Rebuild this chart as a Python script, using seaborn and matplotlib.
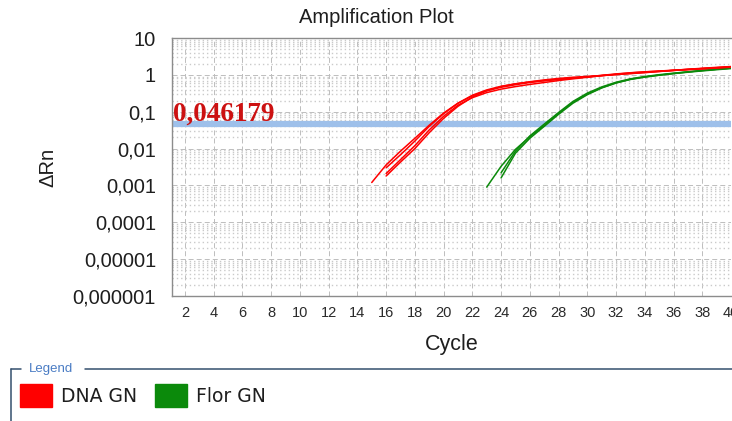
import matplotlib
matplotlib.use("Agg")
import matplotlib.pyplot as plt
import pandas as pd
import seaborn as sns
from matplotlib.lines import Line2D
from matplotlib.patches import Patch
from matplotlib.ticker import FixedLocator, LogLocator, NullFormatter

# ---- chart content -------------------------------------------------------
title = "Amplification Plot"
x_label = "Cycle"
y_label = "ΔRn"
legend_title = "Legend"
samples = ["DNA GN", "Flor GN"]
sample_colors = ["#ff0000", "#0b8a0b"]
threshold = 0.046179

x_ticks = list(range(2, 41, 2))
y_ticks = [1e-6, 1e-5, 1e-4, 1e-3, 1e-2, 1e-1, 1, 10]
y_tick_labels = ["0,000001", "0,00001", "0,0001", "0,001", "0,01", "0,1", "1", "10"]

# DNA GN wells: first plotted cycle, then ΔRn for each cycle up to 40
dna_starts = [15, 16, 16, 16]
dna_well_1 = [0.0012, 0.0036, 0.0085, 0.019, 0.043, 0.092, 0.17, 0.27, 0.37, 0.46,
              0.54, 0.62, 0.69, 0.76, 0.82, 0.88, 0.95, 1.02, 1.09, 1.16,
              1.24, 1.32, 1.40, 1.48, 1.56, 1.64]
dna_well_2 = [0.0021, 0.0050, 0.012, 0.032, 0.075, 0.15, 0.24, 0.33, 0.41, 0.48,
              0.55, 0.62, 0.70, 0.78, 0.86, 0.95, 1.04, 1.13, 1.20, 1.26,
              1.32, 1.38, 1.45, 1.53, 1.61]
dna_well_3 = [0.0018, 0.0043, 0.010, 0.027, 0.066, 0.14, 0.25, 0.37, 0.48, 0.57,
              0.65, 0.73, 0.80, 0.86, 0.91, 0.96, 1.02, 1.08, 1.15, 1.23,
              1.32, 1.42, 1.51, 1.60, 1.68]
dna_well_4 = [0.0030, 0.0068, 0.016, 0.040, 0.088, 0.17, 0.28, 0.39, 0.49, 0.57,
              0.64, 0.70, 0.75, 0.81, 0.88, 0.97, 1.06, 1.14, 1.21, 1.27,
              1.34, 1.41, 1.48, 1.56, 1.65]

# Flor GN wells
flor_starts = [23, 24, 24]
flor_well_1 = [0.0009, 0.0033, 0.0095, 0.021, 0.042, 0.090, 0.18, 0.30, 0.45, 0.61,
               0.76, 0.88, 0.98, 1.08, 1.18, 1.28, 1.38, 1.48]
flor_well_2 = [0.0016, 0.0075, 0.019, 0.040, 0.085, 0.17, 0.29, 0.44, 0.60,
               0.75, 0.87, 0.98, 1.09, 1.20, 1.31, 1.42, 1.52]
flor_well_3 = [0.0022, 0.0085, 0.022, 0.046, 0.095, 0.19, 0.32, 0.47, 0.63,
               0.78, 0.90, 1.01, 1.11, 1.21, 1.32, 1.42, 1.53]

# ---- long-form table -----------------------------------------------------
groups = [
    ("DNA GN", dna_starts, [dna_well_1, dna_well_2, dna_well_3, dna_well_4]),
    ("Flor GN", flor_starts, [flor_well_1, flor_well_2, flor_well_3]),
]
rows = []
for sample, starts, wells in groups:
    for i, (start, values) in enumerate(zip(starts, wells)):
        for k, v in enumerate(values):
            rows.append({"Sample": sample, "Well": f"{sample} {i + 1}",
                         "Cycle": start + k, "ΔRn": v})
df = pd.DataFrame(rows)

# ---- figure --------------------------------------------------------------
sns.set_style("white")
plt.rcParams["lines.scale_dashes"] = False
plt.rcParams["font.family"] = ["Liberation Sans", "DejaVu Sans"]

W, H = 732, 421
fig = plt.figure(figsize=(W / 100, H / 100), dpi=100)
ax = fig.add_axes([172 / W, 1 - 296 / H, 559 / W, 258 / H])

palette = dict(zip(samples, sample_colors))
sns.lineplot(data=df, x="Cycle", y="ΔRn", hue="Sample",
             hue_order=["Flor GN", "DNA GN"], palette=palette,
             units="Well", estimator=None, lw=1.1, legend=False,
             ax=ax, zorder=3)

ax.set_yscale("log")
ax.set_ylim(1e-6, 10)
ax.set_xlim(1.1, 40.0)

ax.yaxis.set_major_locator(FixedLocator(y_ticks))
ax.set_yticklabels(y_tick_labels)
ax.yaxis.set_minor_locator(LogLocator(base=10, subs=range(2, 10), numticks=20))
ax.yaxis.set_minor_formatter(NullFormatter())
ax.xaxis.set_major_locator(FixedLocator(x_ticks))
ax.set_xticklabels([str(t) for t in x_ticks])

# dashed grid; the short minor dashes stack into striped bands under each decade
ax.grid(which="major", axis="both", color="#bdbdbd", ls=(0, (3.6, 2.2)), lw=0.7)
ax.grid(which="minor", axis="y", color="#cacaca", ls=(0, (1.0, 2.1)), lw=1.0)
ax.set_axisbelow(True)

ax.tick_params(axis="y", which="major", length=3.5, width=0.8, color="#777777",
               pad=8, labelsize=14.5, labelcolor="#1e1e1e")
ax.tick_params(axis="x", which="major", length=3.5, width=0.8, color="#777777",
               pad=3.5, labelsize=10.5, labelcolor="#2a2a2a")
ax.tick_params(which="minor", length=0)

for side in ("top", "left", "bottom"):
    ax.spines[side].set_color("#8c8c8c")
    ax.spines[side].set_linewidth(1.0)
ax.spines["right"].set_visible(False)

ax.set_xlabel(x_label, fontsize=15.5, color="#1e1e1e", labelpad=10)
ax.set_ylabel(y_label, fontsize=14.5, color="#1e1e1e", labelpad=11)
ax.set_title(title, fontsize=14.5, color="#1e1e1e", x=0.365, pad=10.5)

# threshold line and its value
ax.axhline(threshold, color="#9ec0ea", lw=4.5, zorder=2)
ax.annotate(f"{threshold:.6f}".replace(".", ","), xy=(0, threshold),
            xycoords=("axes fraction", "data"), xytext=(0.5, 2.4),
            textcoords="offset points", ha="left", va="baseline",
            family="Liberation Serif", fontweight="bold", fontsize=19.5,
            color="#cc1111", zorder=4)

# legend group box
frame_color = "#34506e"
y_top = 1 - 369 / H
fig.add_artist(Line2D([11 / W, 11 / W], [y_top, 0], transform=fig.transFigure,
                      color=frame_color, lw=1.1))
fig.add_artist(Line2D([11 / W, 21 / W], [y_top, y_top], transform=fig.transFigure,
                      color=frame_color, lw=1.1))
fig.add_artist(Line2D([85 / W, 1.0], [y_top, y_top], transform=fig.transFigure,
                      color=frame_color, lw=1.1))
fig.text(29 / W, y_top, legend_title, ha="left", va="center", fontsize=9.5,
         color="#4a7cc4")

handles = [Patch(facecolor=c, edgecolor=c) for c in sample_colors]
fig.legend(handles, samples, ncol=2, loc="upper left",
           bbox_to_anchor=(20 / W, 1 - 384 / H), frameon=False,
           prop={"family": "DejaVu Sans", "size": 13.5},
           handlelength=1.7, handleheight=1.5, handletextpad=0.5,
           columnspacing=0.95, borderpad=0, borderaxespad=0,
           labelcolor="#1e1e1e")

fig.savefig("out.png", dpi=100)
